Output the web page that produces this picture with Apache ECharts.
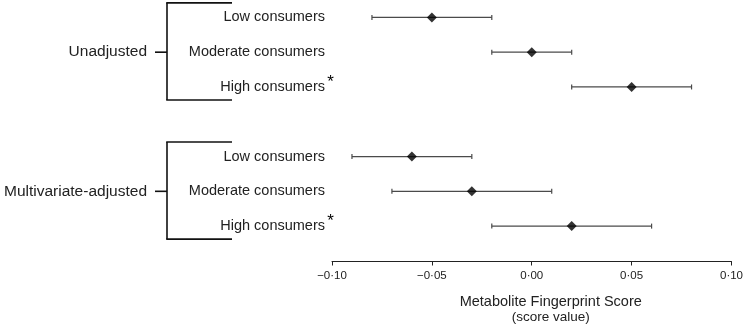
<!DOCTYPE html>
<html>
<head>
<meta charset="utf-8">
<style>
html, body { margin: 0; padding: 0; background: #fff; }
#chart { width: 746px; height: 329px; }
</style>
<script src="https://cdn.jsdelivr.net/npm/echarts@6/dist/echarts.min.js"></script>
</head>
<body>
<div id="chart"></div>
<script>
// rows from top to bottom, '' is the empty row between the two groups
const rowLabels = ['Low consumers', 'Moderate consumers', 'High consumers', '', 'Low consumers', 'Moderate consumers', 'High consumers']
const estimates = [-0.05, 0.00, 0.05, null, -0.06, -0.03, 0.02]
const lowerCI = [-0.08, -0.02, 0.02, null, -0.09, -0.07, -0.02]
const upperCI = [-0.02, 0.02, 0.08, null, -0.03, 0.01, 0.06]
const significant = [false, false, true, false, false, false, true]
const groupNames = ['Unadjusted', 'Multivariate-adjusted']
const groupRows = [[0, 2], [4, 6]]
const xMin = -0.10
const xMax = 0.10
const xStep = 0.05

const FONT = '"Liberation Sans", Arial, Helvetica, sans-serif'
const chart = echarts.init(document.getElementById('chart'))

const barData = []
const pointData = []
estimates.forEach((v, i) => {
  if (v === null) return
  barData.push([i, lowerCI[i], upperCI[i], significant[i] ? 1 : 0])
  pointData.push([v, i])
})

function fmtTick(v) {
  const s = Math.abs(v).toFixed(2).replace('.', '·')
  return v < -1e-9 ? '−' + s : s
}

function renderBar(params, api) {
  const row = api.value(0)
  const lo = api.coord([api.value(1), row])
  const hi = api.coord([api.value(2), row])
  const cap = 2.5
  const style = { stroke: '#4a4a4a', lineWidth: 1.2 }
  const children = [
    { type: 'line', shape: { x1: lo[0], y1: lo[1], x2: hi[0], y2: hi[1] }, style },
    { type: 'line', shape: { x1: lo[0], y1: lo[1] - cap, x2: lo[0], y2: lo[1] + cap }, style },
    { type: 'line', shape: { x1: hi[0], y1: hi[1] - cap, x2: hi[0], y2: hi[1] + cap }, style }
  ]
  if (api.value(3)) {
    // significance star just past the row label
    const a = api.coord([xMin, row])
    children.push({
      type: 'text',
      style: { text: '*', x: a[0] - 1.5, y: a[1] - 5, align: 'center', verticalAlign: 'middle', font: '17px ' + FONT, fill: '#000' }
    })
  }
  return { type: 'group', children }
}

chart.setOption({
  animation: false,
  grid: { left: 332, right: 12, top: 0, height: 246 },
  xAxis: {
    type: 'value',
    min: xMin,
    max: xMax,
    interval: xStep,
    offset: 18,
    axisLine: { show: true, onZero: false, lineStyle: { color: '#222', width: 1 } },
    axisTick: { show: true, inside: false, length: 4, lineStyle: { color: '#222', width: 1 } },
    splitLine: { show: false },
    axisLabel: { formatter: fmtTick, fontSize: 11.5, color: '#222', fontFamily: FONT, margin: 8 },
    name: '{a|Metabolite Fingerprint Score}\n{b|(score value)}',
    nameLocation: 'middle',
    nameGap: 32,
    nameTextStyle: {
      padding: [0, 0, 0, 38],
      rich: {
        a: { fontSize: 14.5, lineHeight: 16, color: '#222', fontFamily: FONT },
        b: { fontSize: 13.5, lineHeight: 15, color: '#222', fontFamily: FONT }
      }
    }
  },
  yAxis: {
    type: 'category',
    data: rowLabels,
    inverse: true,
    axisLine: { show: false },
    axisTick: { show: false },
    splitLine: { show: false },
    axisLabel: { fontSize: 14.5, color: '#222', fontFamily: FONT, margin: 7 }
  },
  series: [
    {
      type: 'custom',
      renderItem: renderBar,
      data: barData,
      encode: { x: [1, 2], y: 0 },
      clip: false,
      z: 2
    },
    {
      type: 'scatter',
      data: pointData,
      symbol: 'diamond',
      symbolSize: 10,
      itemStyle: { color: '#000' },
      z: 3
    }
  ]
})

// group brackets on the left
const rowY = i => chart.convertToPixel({ yAxisIndex: 0 }, i)
const graphics = []
groupNames.forEach((name, g) => {
  const top = rowY(groupRows[g][0]) - 14.5
  const bottom = rowY(groupRows[g][1]) + 13
  const mid = (rowY(groupRows[g][0]) + rowY(groupRows[g][1])) / 2
  const ls = { stroke: '#111', lineWidth: 1.6 }
  graphics.push(
    { type: 'line', shape: { x1: 167, y1: top, x2: 167, y2: bottom }, style: ls },
    { type: 'line', shape: { x1: 166.2, y1: top, x2: 232, y2: top }, style: ls },
    { type: 'line', shape: { x1: 166.2, y1: bottom, x2: 232, y2: bottom }, style: ls },
    { type: 'line', shape: { x1: 155, y1: mid, x2: 167, y2: mid }, style: ls },
    {
      type: 'text',
      x: 147,
      y: mid,
      style: { text: name, align: 'right', verticalAlign: 'middle', font: '15.5px ' + FONT, fill: '#222' }
    }
  )
})
chart.setOption({ graphic: graphics })

window.addEventListener('resize', () => chart.resize())
</script>
</body>
</html>
